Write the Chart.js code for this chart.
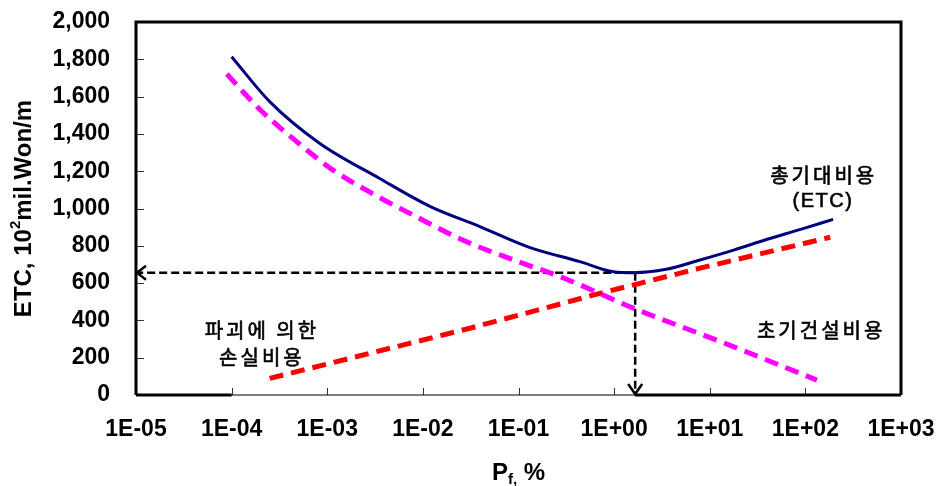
<!DOCTYPE html>
<html>
<head>
<meta charset="utf-8">
<script src="https://cdn.jsdelivr.net/npm/chart.js@4"></script>
<style>
  html, body { margin: 0; padding: 0; background: #fff; }
  #wrap { width: 938px; height: 486px; }
</style>
</head>
<body>
<div id="wrap"><canvas id="myChart" width="938" height="486"></canvas></div>
<script>
// tick values / labels
const xTickValues = [1e-5, 1e-4, 1e-3, 1e-2, 1e-1, 1e0, 1e1, 1e2, 1e3];
const xTickLabels = ['1E-05', '1E-04', '1E-03', '1E-02', '1E-01', '1E+00', '1E+01', '1E+02', '1E+03'];

// total expected cost (ETC)
const etcX = [1.0e-4, 2.5e-4, 8.3e-4, 3.5e-3, 1.2e-2, 4.0e-2, 0.13, 0.44, 0.98, 1.6, 3.5, 7.9, 17.8, 40, 89, 195];
const etcY = [1814, 1573, 1350, 1162, 1010, 902, 792, 715, 661, 656, 674, 724, 777, 835, 888, 942];

// magenta dashed
const magX = [8.9e-5, 2.0e-4, 4.8e-4, 1.15e-3, 3.5e-3, 7.9e-3, 2.6e-2, 8.9e-2, 0.30, 1.6, 13, 132];
const magY = [1721, 1528, 1358, 1206, 1060, 965, 831, 724, 626, 465, 286, 80];

// red dashed
const redX = [2.5e-4, 3.1e-2, 0.71, 7.9, 182];
const redY = [89, 358, 545, 680, 846];

// optimum guide lines
const hGuideX = [1.66, 1e-5];
const hGuideY = [655, 655];
const vGuideX = [1.66, 1.66];
const vGuideY = [655, 0];

const pts = (xs, ys) => xs.map((x, i) => ({ x: x, y: ys[i] }));

const KR = '20px "Noto Sans CJK KR", sans-serif';
const LAT = '20px "Liberation Sans", Arial, sans-serif';

const notes = [
    { text: '총기대비용', x: 150, y: 1180, sp: 3, font: KR },
    { text: '(ETC)', x: 150, y: 1035, sp: 1.5, font: LAT },
    { text: '파괴에 의한', x: 2e-4, y: 349, sp: 3, font: KR },
    { text: '손실비용', x: 2e-4, y: 204, sp: 3, font: KR },
    { text: '초기건설비용', x: 141, y: 349, sp: 3, font: KR }
];

const decorPlugin = {
    id: 'decor',
    afterDatasetsDraw(chart) {
        const ctx = chart.ctx;
        const a = chart.chartArea;
        const xs = chart.scales.x, ys = chart.scales.y;
        ctx.save();

        // inward tick marks
        ctx.strokeStyle = '#333';
        ctx.lineWidth = 1;
        ys.ticks.forEach(t => {
            const py = Math.round(ys.getPixelForValue(t.value)) + 0.5;
            ctx.beginPath(); ctx.moveTo(a.left, py); ctx.lineTo(a.left + 8, py); ctx.stroke();
        });
        xs.ticks.forEach(t => {
            const px = Math.round(xs.getPixelForValue(t.value)) + 0.5;
            ctx.beginPath(); ctx.moveTo(px, a.bottom); ctx.lineTo(px, a.bottom - 7); ctx.stroke();
        });

        // frame
        ctx.strokeStyle = '#000';
        ctx.lineWidth = 1.2;
        ctx.beginPath(); ctx.moveTo(a.left, a.bottom); ctx.lineTo(a.right, a.bottom); ctx.stroke();
        ctx.lineWidth = 3;
        ctx.beginPath();
        ctx.moveTo(a.left, a.bottom);
        ctx.lineTo(a.left, a.top);
        ctx.lineTo(a.right, a.top);
        ctx.lineTo(a.right, a.bottom);
        ctx.stroke();
        const vMeta = chart.getDatasetMeta(4).data;
        ctx.beginPath();
        ctx.moveTo(a.left, a.bottom); ctx.lineTo(xs.getPixelForValue(1e-4), a.bottom);
        ctx.moveTo(vMeta[1].x, a.bottom); ctx.lineTo(a.right, a.bottom);
        ctx.stroke();

        // arrow heads
        ctx.lineWidth = 2.5;
        const h = chart.getDatasetMeta(3).data[1];
        ctx.beginPath();
        ctx.moveTo(h.x + 10, h.y - 7); ctx.lineTo(h.x + 1, h.y); ctx.lineTo(h.x + 10, h.y + 7);
        ctx.stroke();
        const v = vMeta[1];
        ctx.beginPath();
        ctx.moveTo(v.x - 7, v.y - 11); ctx.lineTo(v.x, v.y - 1); ctx.lineTo(v.x + 7, v.y - 11);
        ctx.stroke();

        // annotations (slightly heavier than regular weight)
        ctx.fillStyle = '#000';
        ctx.strokeStyle = '#000';
        ctx.lineWidth = 0.6;
        ctx.textAlign = 'center';
        ctx.textBaseline = 'middle';
        notes.forEach(n => {
            ctx.font = n.font;
            ctx.letterSpacing = n.sp + 'px';
            const px = xs.getPixelForValue(n.x) + n.sp / 2, py = ys.getPixelForValue(n.y);
            ctx.fillText(n.text, px, py);
            ctx.strokeText(n.text, px, py);
        });
        ctx.letterSpacing = '0px';

        // y axis title
        const big = 'bold 24px "Liberation Sans", Arial, sans-serif';
        const small = 'bold 15px "Liberation Sans", Arial, sans-serif';
        ctx.save();
        ctx.translate(24, (a.top + a.bottom) / 2);
        ctx.rotate(-Math.PI / 2);
        ctx.textAlign = 'left';
        ctx.font = big; const w1 = ctx.measureText('ETC, 10').width;
        ctx.font = small; const w2 = ctx.measureText('2').width;
        ctx.font = big; const w3 = ctx.measureText('mil.Won/m').width;
        let sx = -(w1 + w2 + w3) / 2;
        ctx.font = big; ctx.fillText('ETC, 10', sx, 0); sx += w1;
        ctx.font = small; ctx.fillText('2', sx, -8); sx += w2;
        ctx.font = big; ctx.fillText('mil.Won/m', sx, 0);
        ctx.restore();

        // x axis title
        ctx.textAlign = 'left';
        ctx.textBaseline = 'alphabetic';
        ctx.font = big; const p1 = ctx.measureText('P').width;
        ctx.font = small; const p2 = ctx.measureText('f,').width;
        ctx.font = big; const p3 = ctx.measureText(' %').width;
        let tx = (a.left + a.right) / 2 - (p1 + p2 + p3) / 2;
        const by = 480;
        ctx.font = big; ctx.fillText('P', tx, by); tx += p1;
        ctx.font = small; ctx.fillText('f,', tx, by + 4); tx += p2;
        ctx.font = big; ctx.fillText(' %', tx, by);

        ctx.restore();
    }
};

const ctx = document.getElementById('myChart');
new Chart(ctx, {
    type: 'line',
    data: {
        datasets: [
            { data: pts(etcX, etcY), borderColor: '#000080', borderWidth: 3, cubicInterpolationMode: 'monotone' },
            { data: pts(magX, magY), borderColor: '#FF00FF', borderWidth: 5, borderDash: [14, 8], cubicInterpolationMode: 'monotone' },
            { data: pts(redX, redY), borderColor: '#FF0000', borderWidth: 5, borderDash: [14, 8] },
            { data: pts(hGuideX, hGuideY), borderColor: '#000', borderWidth: 2.5, borderDash: [8, 4] },
            { data: pts(vGuideX, vGuideY), borderColor: '#000', borderWidth: 2.5, borderDash: [8, 4] }
        ]
    },
    options: {
        responsive: false,
        animation: false,
        devicePixelRatio: 1,
        layout: { padding: { top: 22, right: 37, left: 0, bottom: 0 } },
        elements: { point: { radius: 0 }, line: { fill: false, borderCapStyle: 'butt' } },
        plugins: { legend: { display: false }, tooltip: { enabled: false } },
        scales: {
            x: {
                type: 'logarithmic',
                min: 1e-5,
                max: 1e3,
                afterBuildTicks: s => { s.ticks = xTickValues.map(v => ({ value: v })); },
                afterFit: s => { s.height = 91; s.paddingLeft = 0; s.paddingRight = 0; },
                grid: { display: false, drawTicks: false },
                border: { display: false },
                ticks: {
                    callback: (v, i) => xTickLabels[i],
                    autoSkip: false, maxRotation: 0, minRotation: 0,
                    color: '#000',
                    font: { family: '"Liberation Sans", Arial, sans-serif', size: 23, weight: 'bold' },
                    padding: 21
                }
            },
            y: {
                min: 0,
                max: 2000,
                afterFit: s => { s.width = 136; s.paddingTop = 0; s.paddingBottom = 0; },
                grid: { display: false, drawTicks: false },
                border: { display: false },
                ticks: {
                    stepSize: 200,
                    callback: v => v.toLocaleString('en-US'),
                    color: '#000',
                    font: { family: '"Liberation Sans", Arial, sans-serif', size: 23, weight: 'bold' },
                    padding: 26
                }
            }
        }
    },
    plugins: [decorPlugin]
});
</script>
</body>
</html>
